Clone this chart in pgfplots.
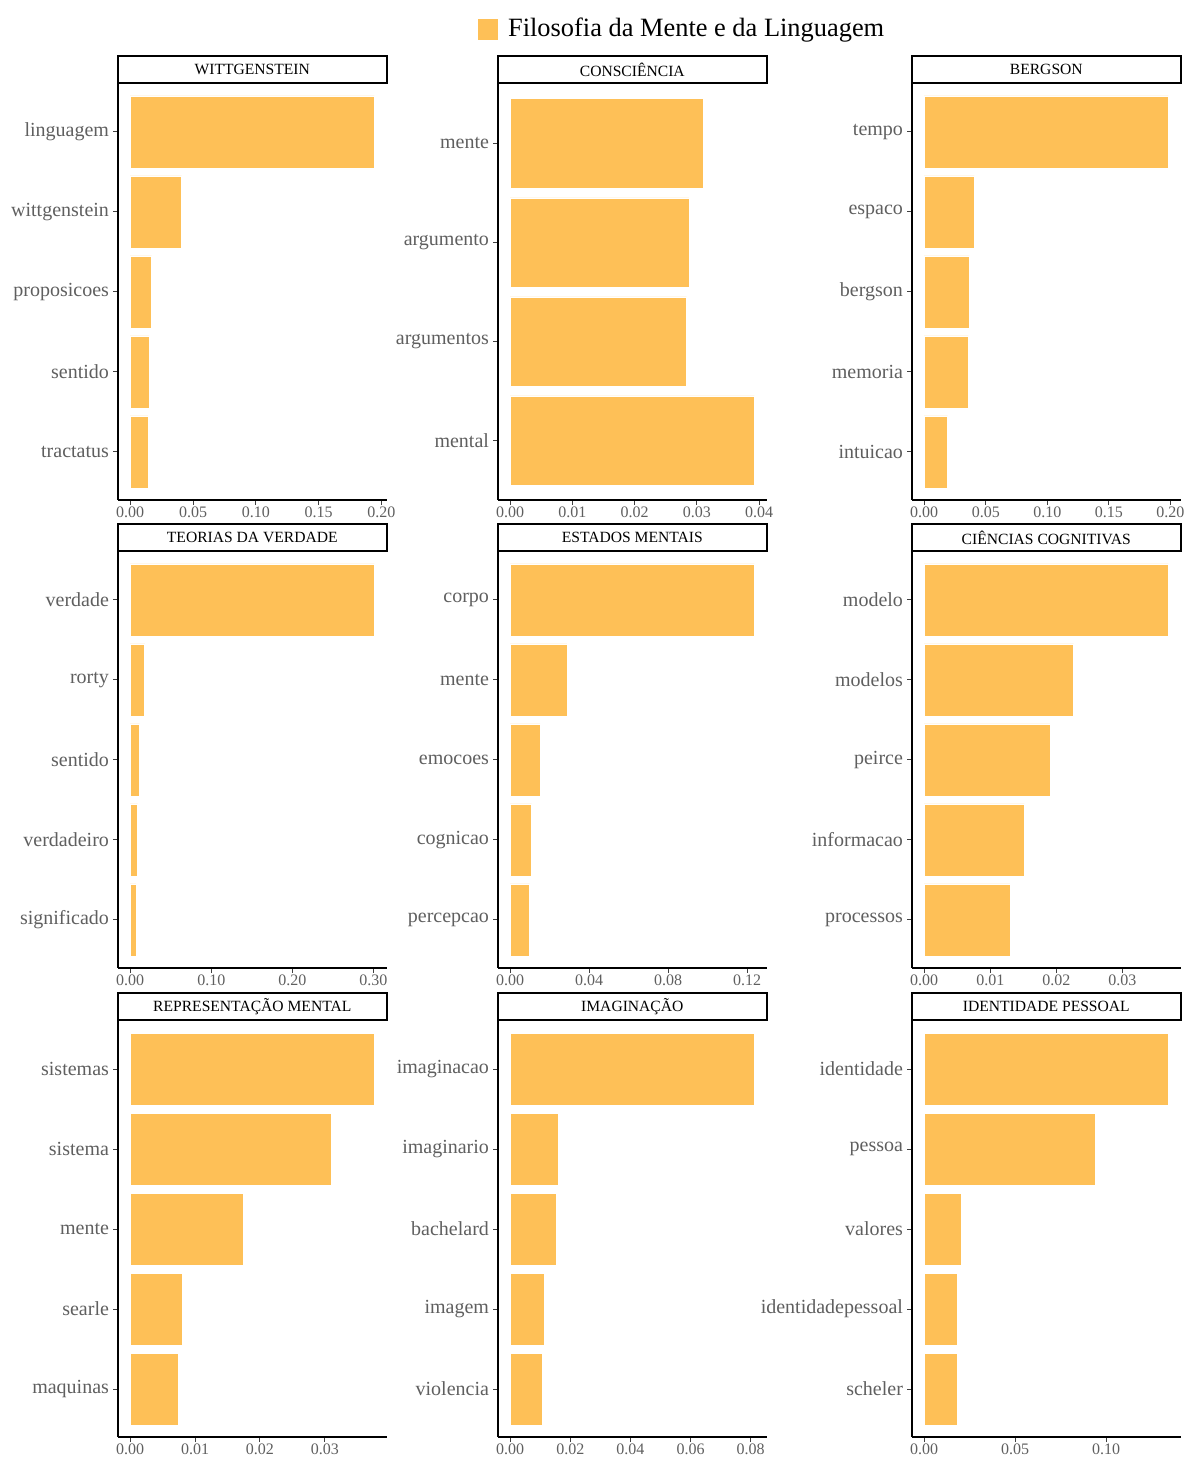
\documentclass[border=0pt]{standalone}
\usepackage{fontspec}
\setmainfont{Liberation Serif}
\usepackage{pgfplots}
\pgfplotsset{compat=1.18}
\definecolor{barcol}{RGB}{254,192,87}
\definecolor{tickgray}{RGB}{95,95,95}

\pgfplotsset{
  panel/.style={
    width=134.3pt, height=208pt, scale only axis,
    anchor=south west,
    xbar, bar width=0.9,
    axis x line*=bottom, axis y line*=left,
    axis line style={black, line width=0.8pt, -},
    tick align=outside, major tick length=2.5pt,
    tick style={black!75, line width=0.5pt},
    ymin=0.4,
    yticklabel style={font=\fontsize{10}{12}\selectfont, text=tickgray, xshift=1.5pt},
    xticklabel style={font=\fontsize{8}{9}\selectfont, text=tickgray, yshift=2.5pt},
    /pgf/number format/fixed, /pgf/number format/fixed zerofill,
    /pgf/number format/precision=2, /pgf/number format/assume math mode=true,
    scaled x ticks=false,
    every axis title shift=0pt,
    title style={at={(axis description cs:0.5,1)}, anchor=south, yshift=0pt,
      draw=black, line width=0.9pt, minimum width=134.3pt, minimum height=13.5pt,
      inner sep=0pt, font=\fontsize{7.8}{9}\selectfont, text=black},
  },
  five/.style={ymax=5.6, ytick={1,2,3,4,5}},
  four/.style={ymax=4.6, ytick={1,2,3,4}},
  barst/.style={fill=barcol, draw=white, line width=0.4pt},
}

\begin{document}
\begin{tikzpicture}
\path[use as bounding box] (0,0) rectangle (593.5pt,728.5pt);

% Row 1
\begin{axis}[panel, five, at={(59pt,478.5pt)}, title={WITTGENSTEIN},
  xmin=-0.00972, xmax=0.2041, xtick={0,0.05,0.10,0.15,0.20},
  yticklabels={tractatus,sentido,proposicoes,wittgenstein,linguagem},
  legend style={at={(1.34,1.132)}, anchor=west, draw=none, fill=none,
    font=\fontsize{13.2}{15}\selectfont, inner sep=0pt,
    /tikz/every odd column/.append style={column sep=3pt}},
  legend image code/.code={\fill[barcol] (0pt,-5pt) rectangle (9.5pt,5pt);}]
\addplot[barst] coordinates {(0.0141,1) (0.0151,2) (0.0170,3) (0.0409,4) (0.1944,5)};
\addlegendentry{Filosofia da Mente e da Linguagem}
\end{axis}

\begin{axis}[panel, four, at={(249pt,478.5pt)}, title={CONSCIÊNCIA},
  xmin=-0.00196, xmax=0.04121, xtick={0,0.01,0.02,0.03,0.04},
  yticklabels={mental,argumentos,argumento,mente}]
\addplot[barst] coordinates {(0.03925,1) (0.02835,2) (0.02873,3) (0.03104,4)};
\end{axis}

\begin{axis}[panel, five, at={(456pt,478.5pt)}, title={BERGSON},
  xmin=-0.00992, xmax=0.2083, xtick={0,0.05,0.10,0.15,0.20},
  yticklabels={intuicao,memoria,bergson,espaco,tempo}]
\addplot[barst] coordinates {(0.0190,1) (0.0358,2) (0.0366,3) (0.0407,4) (0.1984,5)};
\end{axis}

% Row 2
\begin{axis}[panel, five, at={(59pt,244.5pt)}, title={TEORIAS DA VERDADE},
  xmin=-0.01506, xmax=0.3163, xtick={0,0.10,0.20,0.30},
  yticklabels={significado,verdadeiro,sentido,rorty,verdade}]
\addplot[barst] coordinates {(0.0074,1) (0.0090,2) (0.0115,3) (0.0181,4) (0.3012,5)};
\end{axis}

\begin{axis}[panel, five, at={(249pt,244.5pt)}, title={ESTADOS MENTAIS},
  xmin=-0.00618, xmax=0.1298, xtick={0,0.04,0.08,0.12},
  yticklabels={percepcao,cognicao,emocoes,mente,corpo}]
\addplot[barst] coordinates {(0.0098,1) (0.0108,2) (0.0151,3) (0.0287,4) (0.1236,5)};
\end{axis}

\begin{axis}[panel, five, at={(456pt,244.5pt)}, title={CIÊNCIAS COGNITIVAS},
  xmin=-0.00185, xmax=0.03882, xtick={0,0.01,0.02,0.03},
  yticklabels={processos,informacao,peirce,modelos,modelo}]
\addplot[barst] coordinates {(0.01298,1) (0.01515,2) (0.01904,3) (0.02263,4) (0.03697,5)};
\end{axis}

% Row 3
\begin{axis}[panel, five, at={(59pt,10pt)}, title={REPRESENTAÇÃO MENTAL},
  xmin=-0.00188, xmax=0.03953, xtick={0,0.01,0.02,0.03},
  yticklabels={maquinas,searle,mente,sistema,sistemas}]
\addplot[barst] coordinates {(0.00736,1) (0.00802,2) (0.01744,3) (0.03097,4) (0.03765,5)};
\end{axis}

\begin{axis}[panel, five, at={(249pt,10pt)}, title={IMAGINAÇÃO},
  xmin=-0.00406, xmax=0.08528, xtick={0,0.02,0.04,0.06,0.08},
  yticklabels={violencia,imagem,bachelard,imaginario,imaginacao}]
\addplot[barst] coordinates {(0.01078,1) (0.01144,2) (0.01533,3) (0.0160,4) (0.08122,5)};
\end{axis}

\begin{axis}[panel, five, at={(456pt,10pt)}, title={IDENTIDADE PESSOAL},
  xmin=-0.00672, xmax=0.1410, xtick={0,0.05,0.10},
  yticklabels={scheler,identidadepessoal,valores,pessoa,identidade}]
\addplot[barst] coordinates {(0.0183,1) (0.0183,2) (0.0202,3) (0.0943,4) (0.1343,5)};
\end{axis}

\end{tikzpicture}
\end{document}
